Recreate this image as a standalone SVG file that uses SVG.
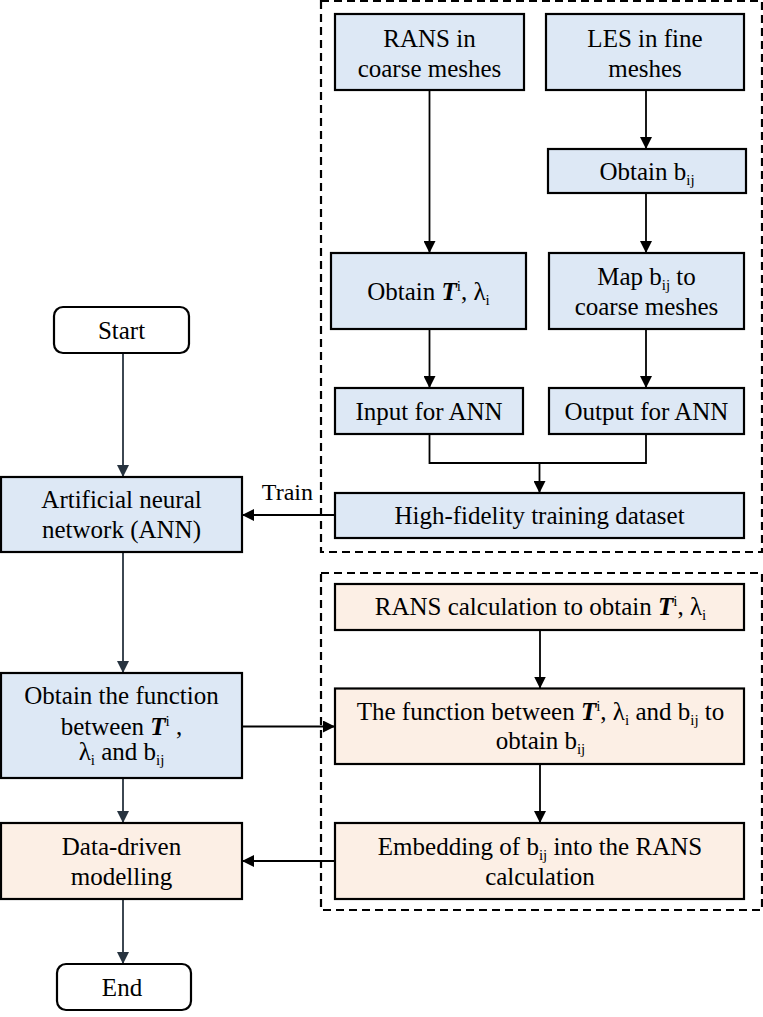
<svg xmlns="http://www.w3.org/2000/svg" width="763" height="1017" viewBox="0 0 763 1017">
<style>
text{font-family:"Liberation Serif","Times New Roman",serif;fill:#000;text-anchor:middle;font-size:25px}
.b{fill:#DDE8F5;stroke:#000;stroke-width:2.2}
.p{fill:#FCEFE5;stroke:#000;stroke-width:2.2}
.w{fill:#fff;stroke:#000;stroke-width:2.2}
.dash{fill:none;stroke:#000;stroke-width:2.2;stroke-dasharray:8,5}
.c{fill:none;stroke:#000;stroke-width:1.8}
.d{fill:none;stroke:#27333f;stroke-width:1.8}
.T{font-weight:bold;font-style:italic}
.s{font-size:15px}
</style>
<defs>
<marker id="a" markerWidth="12" markerHeight="12" refX="12" refY="6" orient="auto" markerUnits="userSpaceOnUse"><path d="M0,0 L12,6 L0,12 Z" fill="#000"/></marker>
<marker id="ad" markerWidth="12" markerHeight="12" refX="12" refY="6" orient="auto" markerUnits="userSpaceOnUse"><path d="M0,0 L12,6 L0,12 Z" fill="#27333f"/></marker>
</defs>
<rect class="dash" x="321" y="1" width="441" height="551"/>
<rect class="dash" x="321" y="573" width="441" height="337"/>
<g id="connectors">
<line class="c" x1="429.5" y1="90" x2="429.5" y2="253" marker-end="url(#a)"/>
<line class="c" x1="646" y1="90" x2="646" y2="149" marker-end="url(#a)"/>
<line class="c" x1="646" y1="193" x2="646" y2="253" marker-end="url(#a)"/>
<line class="c" x1="429.5" y1="329" x2="429.5" y2="388" marker-end="url(#a)"/>
<line class="c" x1="646" y1="329" x2="646" y2="388" marker-end="url(#a)"/>
<polyline class="c" points="429.5,434 429.5,463 646,463 646,434"/>
<line class="c" x1="539.5" y1="463" x2="539.5" y2="493" marker-end="url(#a)"/>
<line class="c" x1="335" y1="515" x2="242" y2="515" marker-end="url(#a)"/>
<text x="313" y="500" style="text-anchor:end;font-size:24px">Train</text>
<line class="d" x1="123" y1="353" x2="123" y2="477" marker-end="url(#ad)"/>
<line class="d" x1="123" y1="552" x2="123" y2="673" marker-end="url(#ad)"/>
<line class="d" x1="123" y1="778" x2="123" y2="823" marker-end="url(#ad)"/>
<line class="d" x1="123" y1="899" x2="123" y2="964" marker-end="url(#ad)"/>
<line class="c" x1="242" y1="726.5" x2="335" y2="726.5" marker-end="url(#a)"/>
<line class="c" x1="540" y1="630" x2="540" y2="688.5" marker-end="url(#a)"/>
<line class="c" x1="540" y1="764" x2="540" y2="823" marker-end="url(#a)"/>
<line class="c" x1="335" y1="861" x2="242" y2="861" marker-end="url(#a)"/>
</g>
<g id="rans-coarse"><rect class="b" x="335" y="14" width="189" height="76"/><text x="429.5" y="46.5">RANS in</text><text x="429.5" y="76.5">coarse meshes</text></g>
<g id="les-fine"><rect class="b" x="546" y="14" width="198" height="76"/><text x="645" y="46.5">LES in fine</text><text x="645" y="76.5">meshes</text></g>
<g id="obtain-bij"><rect class="b" x="548" y="149" width="198" height="44"/><text x="647" y="179.5">Obtain b<tspan class="s" dy="5">ij</tspan></text></g>
<g id="obtain-T"><rect class="b" x="331" y="253" width="195" height="76"/><text x="428.5" y="299.5">Obtain <tspan class="T">T</tspan><tspan class="s" dy="-9">i</tspan><tspan dy="9">, λ</tspan><tspan class="s" dy="5">i</tspan></text></g>
<g id="map-bij"><rect class="b" x="549" y="253" width="195" height="76"/><text x="646.5" y="284.5">Map b<tspan class="s" dy="5">ij</tspan><tspan dy="-5"> to</tspan></text><text x="646.5" y="314.5">coarse meshes</text></g>
<g id="input-ann"><rect class="b" x="335" y="388" width="188" height="46"/><text x="429" y="420">Input for ANN</text></g>
<g id="output-ann"><rect class="b" x="549" y="388" width="195" height="46"/><text x="646.5" y="420">Output for ANN</text></g>
<g id="dataset"><rect class="b" x="335" y="493" width="409" height="45"/><text x="539.5" y="524">High-fidelity training dataset</text></g>
<g id="start"><rect class="w" x="54" y="307" width="135" height="46" rx="9"/><text x="121.5" y="338.5">Start</text></g>
<g id="ann"><rect class="b" x="1" y="477" width="241" height="75"/><text x="121.5" y="508">Artificial neural</text><text x="121.5" y="538">network (ANN)</text></g>
<g id="obtain-function"><rect class="b" x="1" y="673" width="241" height="105"/><text x="121.5" y="704">Obtain the function</text><text x="121.5" y="735">between <tspan class="T">T</tspan><tspan class="s" dy="-9">i</tspan><tspan dy="9"> ,</tspan></text><text x="121.5" y="760">λ<tspan class="s" dy="5">i</tspan><tspan dy="-5"> and b</tspan><tspan class="s" dy="5">ij</tspan></text></g>
<g id="data-driven"><rect class="p" x="1" y="823" width="241" height="76"/><text x="121.5" y="855">Data-driven</text><text x="121.5" y="885">modelling</text></g>
<g id="end"><rect class="w" x="57" y="964" width="134" height="46" rx="9"/><text x="122" y="995.5">End</text></g>
<g id="rans-calc"><rect class="p" x="335" y="584" width="409" height="46"/><text x="540.5" y="615">RANS calculation to obtain <tspan class="T">T</tspan><tspan class="s" dy="-9">i</tspan><tspan dy="9">, λ</tspan><tspan class="s" dy="5">i</tspan></text></g>
<g id="function-bij"><rect class="p" x="335" y="688.5" width="409" height="75.5"/><text x="540.5" y="720">The function between <tspan class="T">T</tspan><tspan class="s" dy="-9">i</tspan><tspan dy="9">, λ</tspan><tspan class="s" dy="5">i</tspan><tspan dy="-5"> and b</tspan><tspan class="s" dy="5">ij</tspan><tspan dy="-5"> to</tspan></text><text x="540.5" y="749">obtain b<tspan class="s" dy="5">ij</tspan></text></g>
<g id="embedding"><rect class="p" x="335" y="823" width="409" height="76"/><text x="540" y="855">Embedding of b<tspan class="s" dy="5">ij</tspan><tspan dy="-5"> into the RANS</tspan></text><text x="540" y="885">calculation</text></g>
</svg>
